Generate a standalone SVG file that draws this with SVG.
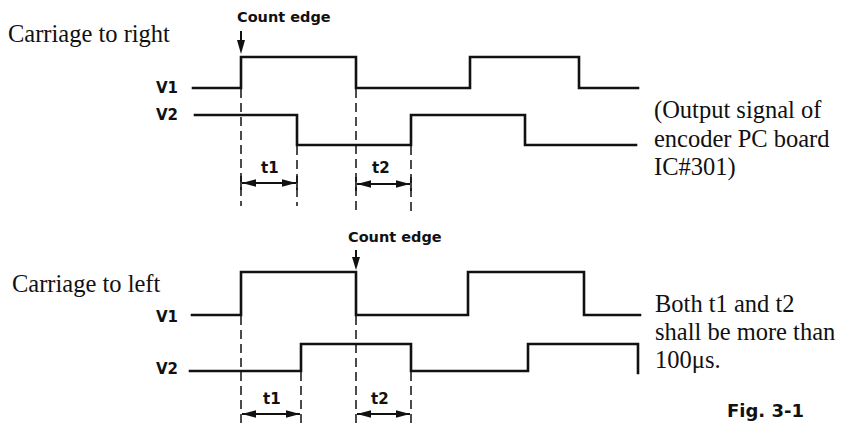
<svg xmlns="http://www.w3.org/2000/svg" width="843" height="423" viewBox="0 0 843 423">
<style>
.sig{fill:none;stroke:#111;stroke-width:2.6;stroke-linejoin:miter;stroke-linecap:square}
.dash{fill:none;stroke:#111;stroke-width:1.5;stroke-dasharray:9 5}
.dim{fill:none;stroke:#111;stroke-width:1.8}
.tick{stroke:#111;stroke-width:1.6}
.ser{font-family:"Liberation Serif","Times New Roman",serif;font-size:24.5px;fill:#111}
.lab{font-family:"DejaVu Sans","Liberation Sans",sans-serif;font-weight:bold;fill:#111}
.ptr{stroke:#111;stroke-width:2}
</style>
<defs>
<marker id="ah" viewBox="0 0 14 8" refX="14" refY="4" markerWidth="14" markerHeight="8" markerUnits="userSpaceOnUse" orient="auto-start-reverse">
<path d="M0,0.3 L14,4 L0,7.7 Z" fill="#111"/>
</marker>
</defs>
<rect width="843" height="423" fill="#fff"/>

<g id="titles">
<text class="ser" x="8" y="42">Carriage to right</text>
<text class="ser" x="12" y="292">Carriage to left</text>
</g>

<g id="notes">
<text class="ser" x="654" y="118">(Output signal of</text>
<text class="ser" x="654" y="147">encoder PC board</text>
<text class="ser" x="654" y="175">IC#301)</text>
<text class="ser" x="655" y="312">Both t1 and t2</text>
<text class="ser" x="655" y="340">shall be more than</text>
<text class="ser" x="655" y="368">100μs.</text>
<text class="lab" x="727" y="417" font-size="18">Fig. 3-1</text>
</g>

<g id="top-labels">
<text class="lab" x="237" y="22" font-size="14.5">Count edge</text>
<text class="lab" x="156" y="93" font-size="15">V1</text>
<text class="lab" x="156" y="120" font-size="15">V2</text>
<text class="lab" x="261" y="173" font-size="15">t1</text>
<text class="lab" x="372" y="173" font-size="15">t2</text>
</g>

<g id="bottom-labels">
<text class="lab" x="348" y="242" font-size="14.5">Count edge</text>
<text class="lab" x="156" y="322" font-size="15">V1</text>
<text class="lab" x="156" y="374" font-size="15">V2</text>
<text class="lab" x="263" y="404" font-size="15">t1</text>
<text class="lab" x="371" y="404" font-size="15">t2</text>
</g>

<g id="top-signals">
<path class="sig" d="M193,88 H241 V57 H356 V88 H470 V57 H579 V88 H638"/>
<path class="sig" d="M195,115 H297 V145 H411 V115 H525 V145 H636"/>
</g>

<g id="bottom-signals">
<path class="sig" d="M192,315 H241 V272 H356 V315 H468 V272 H584 V315 H640"/>
<path class="sig" d="M190,371 H301 V344 H411 V371 H528 V344 H638 V373"/>
</g>

<g id="connectors">
<line class="dash" x1="241" y1="89" x2="241" y2="206"/>
<line class="dash" x1="297" y1="146" x2="297" y2="206"/>
<line class="dash" x1="356" y1="89" x2="356" y2="211"/>
<line class="dash" x1="411" y1="146" x2="411" y2="211"/>
<line class="dash" x1="241" y1="316" x2="241" y2="423"/>
<line class="dash" x1="301" y1="372" x2="301" y2="423"/>
<line class="dash" x1="356" y1="316" x2="356" y2="423"/>
<line class="dash" x1="411" y1="372" x2="411" y2="423"/>

<line class="dim" x1="242" y1="183" x2="296" y2="183" marker-start="url(#ah)" marker-end="url(#ah)"/>
<line class="dim" x1="357" y1="184" x2="410" y2="184" marker-start="url(#ah)" marker-end="url(#ah)"/>
<line class="dim" x1="242" y1="414" x2="300" y2="414" marker-start="url(#ah)" marker-end="url(#ah)"/>
<line class="dim" x1="357" y1="414" x2="410" y2="414" marker-start="url(#ah)" marker-end="url(#ah)"/>
<line class="tick" x1="241" y1="176" x2="241" y2="190"/>
<line class="tick" x1="297" y1="176" x2="297" y2="190"/>
<line class="tick" x1="356" y1="177" x2="356" y2="191"/>
<line class="tick" x1="411" y1="177" x2="411" y2="191"/>

<line class="ptr" x1="241" y1="31" x2="241" y2="42"/>
<path d="M237,40 L245,40 L241,54 Z" fill="#111"/>
<line class="ptr" x1="356" y1="250" x2="356" y2="259"/>
<path d="M352,257 L360,257 L356,270 Z" fill="#111"/>
</g>
</svg>
